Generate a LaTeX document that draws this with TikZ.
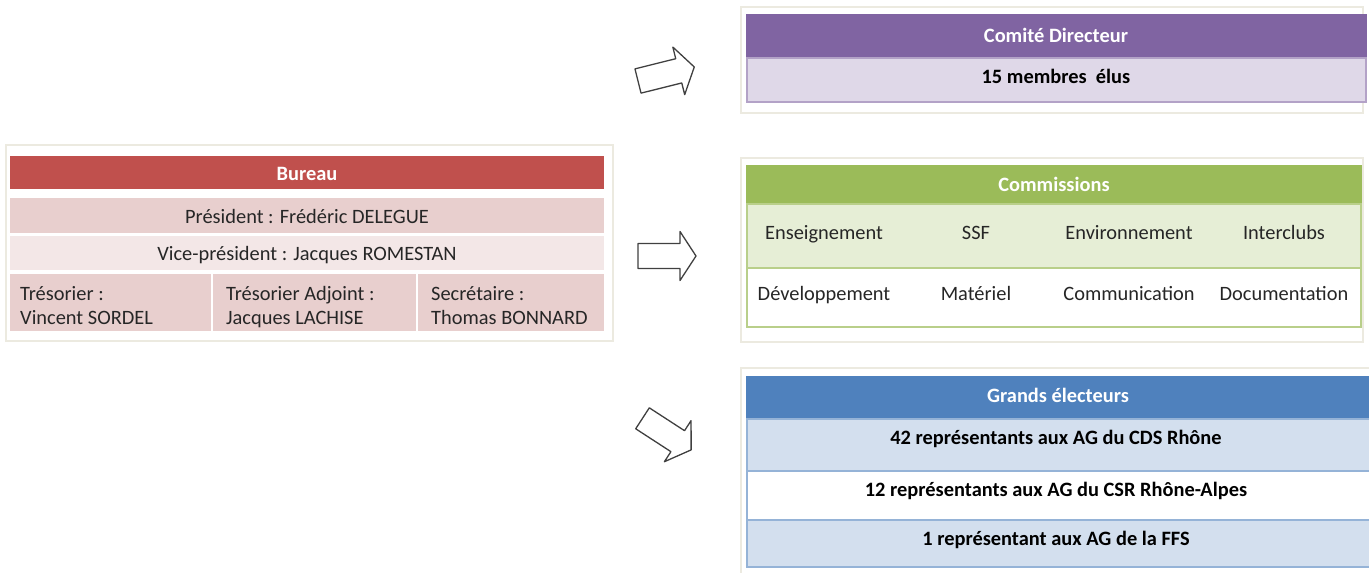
\documentclass[tikz,border=0pt]{standalone}
\usepackage{fontspec}
\setmainfont{Carlito}
\usetikzlibrary{positioning}

\definecolor{rouge}{HTML}{C0504D}
\definecolor{rose}{HTML}{E8CFCE}
\definecolor{rosepale}{HTML}{F3E7E7}
\definecolor{violet}{HTML}{8064A2}
\definecolor{lavande}{HTML}{DFD8E8}
\definecolor{violetbord}{HTML}{B3A2C7}
\definecolor{vert}{HTML}{9BBB59}
\definecolor{vertpale}{HTML}{E6EED6}
\definecolor{vertbord}{HTML}{B9CF8A}
\definecolor{bleu}{HTML}{4F81BD}
\definecolor{bleupale}{HTML}{D3DFEE}
\definecolor{bleubord}{HTML}{95B3D7}
\definecolor{cadregris}{HTML}{ECEAE0}

\tikzset{
	case/.style={anchor=north west,inner sep=0pt,outer sep=0pt,line width=1.5pt},
	lbl/.style={font=\fontsize{20.4}{24}\selectfont,text=black!85,inner sep=0pt,anchor=base},
	gras/.style={lbl,font=\fontsize{20.4}{24}\selectfont\bfseries,text=black},
	titre/.style={gras,text=white},
	cadre/.style={draw=cadregris,line width=1.2pt},
	fleche/.style={draw=black!75,fill=white,line width=1.3pt,line join=round}
}

\begin{document}
\begin{tikzpicture}[x=1pt,y=-1pt]
	\useasboundingbox (0,0) rectangle (1369,573);
	% cadres
	\draw[cadre] (6,145) rectangle (613,341) (741,7) rectangle (1363,113) (741,158) rectangle (1363,342) (741,368) rectangle (1390,600);
	% Bureau
	\node[case,fill=rouge,draw=white,minimum width=596,minimum height=35] (bur) at (9,155) {};
	\node[case,fill=rose,draw=white,minimum width=596,minimum height=37] (pres) at (9,197) {};
	\node[case,fill=rosepale,draw=white,minimum width=596,minimum height=36] (vice) at (9,235) {};
	\foreach \n/\x/\w in {tres/9/203,tadj/212/205,secr/417/188}
		\node[case,fill=rose,draw=white,minimum width=\w,minimum height=59] (\n) at (\x,273) {};
	% Comite Directeur
	\node[case,fill=violet,draw=violet,minimum width=619,minimum height=43] (cd) at (747,15) {};
	\node[case,fill=lavande,draw=violetbord,minimum width=619,minimum height=44] (cdm) at (747,58) {};
	% Commissions
	\node[case,fill=vert,draw=vert,minimum width=614,minimum height=38] (com) at (747,166) {};
	\node[case,fill=vertpale,draw=vertbord,minimum width=614,minimum height=64] (comA) at (747,204) {};
	\node[case,fill=white,draw=vertbord,minimum width=614,minimum height=59] (comB) at (747,268) {};
	% Grands electeurs
	\node[case,fill=bleu,draw=bleu,minimum width=630,minimum height=42] (ge) at (747,377) {};
	\node[case,fill=bleupale,draw=bleubord,minimum width=630,minimum height=52] (geA) at (747,419) {};
	\node[case,fill=white,draw=bleubord,minimum width=630,minimum height=49] (geB) at (747,471) {};
	\node[case,fill=bleupale,draw=bleubord,minimum width=630,minimum height=47] (geC) at (747,520) {};
	% titres
	\foreach \n/\x/\y/\t in {tbur/307/180/Bureau,tcd/1056/42/Comité Directeur,tcom/1054/191/Commissions,tge/1058/402/Grands électeurs}
		\node[titre] (\n) at (\x,\y) {\t};
	% textes
	\node[lbl] (tpres) at (307,223) {Président : Frédéric DELEGUE};
	\node[lbl] (tvice) at (307,260) {Vice-président : Jacques ROMESTAN};
	\foreach \n/\x/\a/\b in {ttres/20/Trésorier :/Vincent SORDEL,ttadj/226/Trésorier Adjoint :/Jacques LACHISE,tsecr/431/Secrétaire :/Thomas BONNARD}{
		\node[lbl,anchor=base west] (\n a) at (\x,300) {\a};
		\node[lbl,anchor=base west] (\n b) at (\x,324) {\b};
	}
	\node[gras] (tcdm) at (1056,83) {15 membres\ \ élus};
	\foreach \n/\x/\a/\b in {ens/824/Enseignement/Développement,ssf/976/SSF/Matériel,env/1129/Environnement/Communication,int/1284/Interclubs/Documentation}{
		\node[lbl] (\n) at (\x,239) {\a};
		\node[lbl] (\n b) at (\x,300) {\b};
	}
	\foreach \n/\y/\t in {tgeA/444/42 représentants aux AG du CDS Rhône,tgeB/496/12 représentants aux AG du CSR Rhône-Alpes,tgeC/545/1 représentant aux AG de la FFS}
		\node[gras] (\n) at (1056,\y) {\t};
	% fleches
	\foreach \px/\py/\ang in {638/81/14,638/256/0,642.5/418.3/-33}
		\draw[fleche,shift={(\px,\py)},rotate=\ang] (0,-12.5) -- (42,-12.5) -- (42,-24.5) -- (58,0) -- (42,24.5) -- (42,12.5) -- (0,12.5) -- cycle;
\end{tikzpicture}
\end{document}
